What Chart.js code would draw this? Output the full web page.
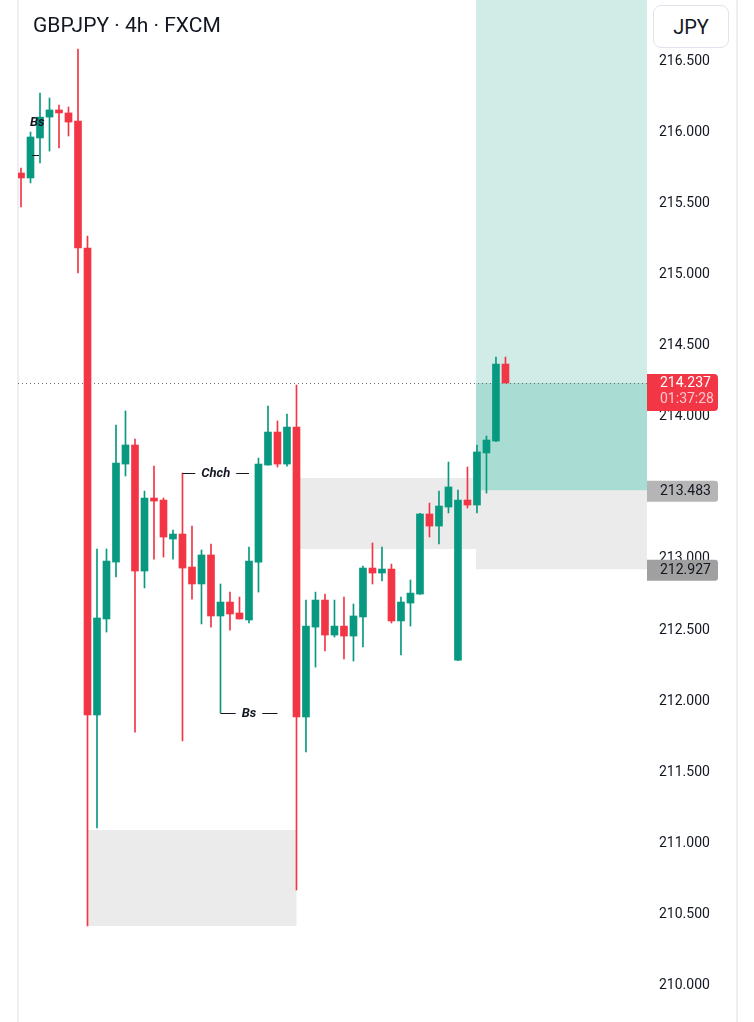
<!DOCTYPE html>
<html>
<head>
<meta charset="utf-8">
<script src="https://cdn.jsdelivr.net/npm/chart.js@4.4.1/dist/chart.umd.min.js"></script>
<style>
html,body{margin:0;padding:0;background:#fff;}
#wrap{position:relative;width:754px;height:1022px;overflow:hidden;background:#fff;}
#c{position:absolute;left:0;top:0;}
#title{position:absolute;left:33px;top:15px;font:21px/20px Roboto,sans-serif;color:#131722;white-space:nowrap;}
#cur{position:absolute;left:653px;top:5px;width:76px;height:43px;box-sizing:border-box;border:1px solid #e0e3eb;border-radius:8px;background:#fff;display:flex;align-items:center;justify-content:center;font:20px Roboto,sans-serif;color:#131722;}
</style>
</head>
<body>
<div id="wrap">
<canvas id="c" width="754" height="1022"></canvas>
<div id="title">GBPJPY · 4h · FXCM</div>
<div id="cur">JPY</div>
</div>
<script>
// ---- data ----
const opens  = [215.713,215.678,215.959,216.106,216.156,216.135,216.078,215.186,211.903,212.578,
                212.978,213.667,213.801,212.915,213.428,213.414,213.140,213.175,212.943,212.824,
                213.028,212.599,212.697,212.620,212.571,212.978,213.660,213.892,213.667,213.927,
                211.889,212.521,212.711,212.465,212.528,212.458,212.592,212.936,212.901,212.929,
                212.564,212.690,212.753,213.316,213.231,213.365,212.289,213.414,213.379,213.745,
                213.829,214.370];
const highs  = [215.748,216.001,216.275,216.240,216.191,216.177,216.584,215.270,213.070,213.070,
                213.941,214.040,213.843,213.477,213.653,213.428,213.203,213.604,213.231,213.063,
                213.105,212.824,212.767,212.732,213.084,213.709,214.075,213.970,214.019,214.223,
                212.711,212.767,212.753,212.711,212.732,212.683,212.950,213.112,213.084,212.964,
                212.732,212.852,213.320,213.393,213.477,213.681,213.484,213.646,213.801,213.864,
                214.419,214.419];
const lows   = [215.474,215.643,215.783,215.867,215.889,215.973,215.010,210.420,211.109,212.486,
                212.873,213.583,211.783,212.796,212.999,213.013,212.999,211.720,212.718,212.543,
                212.521,211.917,212.500,212.578,212.550,212.767,213.660,213.646,213.653,210.673,
                211.643,212.240,212.353,212.451,212.297,212.282,212.381,212.824,212.845,212.550,
                212.325,212.528,212.750,213.154,213.105,213.323,212.285,213.358,213.323,213.463,
                213.825,214.237];
const closes = [215.678,215.966,216.106,216.156,216.135,216.071,215.186,211.903,212.585,212.985,
                213.674,213.801,212.915,213.428,213.407,213.154,213.175,212.936,212.824,213.028,
                212.599,212.697,212.613,212.578,212.985,213.667,213.892,213.667,213.927,211.889,
                212.528,212.711,212.465,212.528,212.458,212.599,212.936,212.901,212.929,212.564,
                212.697,212.760,213.316,213.231,213.372,213.506,213.414,213.379,213.752,213.836,
                214.370,214.237];
// 213.500 is hidden behind the entry price tag in the picture
const yTickValues = [210.0,210.5,211.0,211.5,212.0,212.5,213.0,214.0,214.5,215.0,215.5,216.0,216.5];
const currentPrice = 214.237;
const countdown = '01:37:28';
const entryPrice = 213.483;
const stopPrice = 212.927;
const targetPrice = 217.5;
const positionStart = 47.9;
// gray zones: bar-index range and price range
const zoneFrom = [7, 29.37];
const zoneTo   = [29, 47.9];
const zoneLow  = [210.420, 213.070];
const zoneHigh = [211.094, 213.569];
// structure labels
const markText  = ['Chch', 'Bs', 'Bs'];
const markFrom  = [17, 21, 1.15];
const markTo    = [24, 27, 1.9];
const markPrice = [213.604, 211.917, 215.839];
const markTextPrice = [null, null, 216.064];
const markTextAt    = [null, null, 1.7];

// ---- chart ----
const GREEN = '#089981', RED = '#f23645';
Chart.defaults.font.family = 'Roboto, sans-serif';
const idx = opens.map((_, i) => i);
const colors = idx.map(i => closes[i] >= opens[i] ? GREEN : RED);

function rrect(ctx, x, y, w, h, r) {
  ctx.beginPath();
  ctx.moveTo(x, y);
  ctx.lineTo(x + w - r, y);
  ctx.quadraticCurveTo(x + w, y, x + w, y + r);
  ctx.lineTo(x + w, y + h - r);
  ctx.quadraticCurveTo(x + w, y + h, x + w - r, y + h);
  ctx.lineTo(x, y + h);
  ctx.closePath();
}

const overlay = {
  id: 'overlay',
  beforeDraw(c) {
    const ctx = c.ctx;
    ctx.save();
    ctx.fillStyle = '#efeff1';
    ctx.fillRect(c.chartArea.left - 1, 0, 2, c.height);
    ctx.fillRect(c.scales.y.right - 1, 0, 2, c.height);
    ctx.restore();
  },
  beforeDatasetsDraw(c) {
    const {ctx, chartArea: a, scales: {x, y}} = c;
    ctx.save();
    ctx.beginPath();
    ctx.rect(a.left, a.top, a.right - a.left, a.bottom - a.top);
    ctx.clip();
    ctx.fillStyle = '#ebebeb';
    for (let k = 0; k < zoneFrom.length; k++) {
      const x1 = x.getPixelForValue(zoneFrom[k]), x2 = x.getPixelForValue(zoneTo[k]);
      const y1 = y.getPixelForValue(zoneHigh[k]), y2 = y.getPixelForValue(zoneLow[k]);
      ctx.fillRect(x1, y1, x2 - x1, y2 - y1);
    }
    const px1 = x.getPixelForValue(positionStart), px2 = a.right;
    const yE = y.getPixelForValue(entryPrice), yS = y.getPixelForValue(stopPrice);
    const yT = y.getPixelForValue(targetPrice), yC = y.getPixelForValue(currentPrice);
    ctx.fillStyle = '#ebebeb';
    ctx.fillRect(px1, yE, px2 - px1, yS - yE);
    ctx.fillStyle = 'rgba(8,153,129,0.19)';
    ctx.fillRect(px1, yT, px2 - px1, yE - yT);
    ctx.fillStyle = 'rgba(8,153,129,0.2)';
    ctx.fillRect(px1, yC, px2 - px1, yE - yC);
    ctx.strokeStyle = '#6a6d78';
    ctx.lineWidth = 1;
    ctx.setLineDash([1, 3]);
    ctx.beginPath();
    const yl = Math.round(yC) + 0.5;
    ctx.moveTo(a.left, yl);
    ctx.lineTo(a.right, yl);
    ctx.stroke();
    ctx.restore();
  },
  afterDatasetsDraw(c) {
    const {ctx, scales: {x, y}} = c;
    ctx.save();
    ctx.font = 'italic bold 13px Roboto, sans-serif';
    ctx.fillStyle = '#131722';
    ctx.strokeStyle = '#131722';
    ctx.lineWidth = 1;
    ctx.textAlign = 'center';
    ctx.textBaseline = 'middle';
    for (let k = 0; k < markText.length; k++) {
      const x1 = x.getPixelForValue(markFrom[k]), x2 = x.getPixelForValue(markTo[k]);
      const yy = Math.round(y.getPixelForValue(markPrice[k])) + 0.5;
      if (markTextPrice[k] === null) {
        const mid = (x1 + x2) / 2;
        const w = ctx.measureText(markText[k]).width;
        ctx.beginPath();
        ctx.moveTo(x1, yy); ctx.lineTo(mid - w / 2 - 6, yy);
        ctx.moveTo(mid + w / 2 + 6, yy); ctx.lineTo(x2, yy);
        ctx.stroke();
        ctx.fillText(markText[k], mid, yy);
      } else {
        ctx.beginPath();
        ctx.moveTo(x1, yy); ctx.lineTo(x2, yy);
        ctx.stroke();
        ctx.fillText(markText[k], x.getPixelForValue(markTextAt[k]), y.getPixelForValue(markTextPrice[k]));
      }
    }
    ctx.restore();
  },
  afterDraw(c) {
    const {ctx, chartArea: a, scales: {y}} = c;
    ctx.save();
    ctx.font = '14px Roboto, sans-serif';
    ctx.textAlign = 'left';
    ctx.textBaseline = 'middle';
    const L = a.right, W = 71, tx = a.right + 13;
    // stop tag
    let yy = y.getPixelForValue(stopPrice);
    ctx.fillStyle = '#a0a0a0';
    rrect(ctx, L, yy - 9.5, W, 21, 3); ctx.fill();
    ctx.fillStyle = '#131722';
    ctx.fillText(stopPrice.toFixed(3), tx, yy + 1);
    // entry tag
    yy = y.getPixelForValue(entryPrice);
    ctx.fillStyle = '#b5b5b5';
    rrect(ctx, L, yy - 9.5, W, 21, 3); ctx.fill();
    ctx.fillStyle = '#131722';
    ctx.fillText(entryPrice.toFixed(3), tx, yy + 1);
    // current price tag
    yy = y.getPixelForValue(currentPrice);
    ctx.fillStyle = RED;
    rrect(ctx, L, yy - 9, W, 37, 4); ctx.fill();
    ctx.fillStyle = '#ffffff';
    ctx.fillText(currentPrice.toFixed(3), tx, yy + 0.5);
    ctx.fillStyle = 'rgba(255,255,255,0.72)';
    ctx.fillText(countdown, tx, yy + 17);
    ctx.restore();
  }
};

new Chart(document.getElementById('c'), {
  type: 'bar',
  data: {
    datasets: [
      {
        label: 'wick',
        data: idx.map(i => ({x: i, y: [lows[i], highs[i]]})),
        backgroundColor: colors,
        borderWidth: 0,
        barThickness: 1,
        grouped: false,
        minBarLength: 1
      },
      {
        label: 'body',
        data: idx.map(i => ({x: i, y: [opens[i], closes[i]]})),
        backgroundColor: colors,
        borderWidth: 0,
        barThickness: 7,
        grouped: false,
        minBarLength: 1
      }
    ]
  },
  options: {
    responsive: false,
    animation: false,
    devicePixelRatio: 1,
    layout: {padding: {left: 18, right: 17, top: 0, bottom: 0}},
    plugins: {legend: {display: false}, tooltip: {enabled: false}},
    scales: {
      x: {type: 'linear', display: false, min: -0.316, max: 65.9, offset: false},
      y: {
        position: 'right',
        min: 209.745,
        max: 216.929,
        grid: {display: false, drawTicks: false},
        border: {display: false},
        ticks: {
          padding: 12,
          color: '#131722',
          font: {size: 14},
          callback: v => Number(v).toFixed(3)
        },
        afterBuildTicks: s => { s.ticks = yTickValues.map(v => ({value: v})); },
        afterFit: s => { s.width = 90; s.paddingTop = 0; s.paddingBottom = 0; }
      }
    }
  },
  plugins: [overlay]
});
</script>
</body>
</html>
